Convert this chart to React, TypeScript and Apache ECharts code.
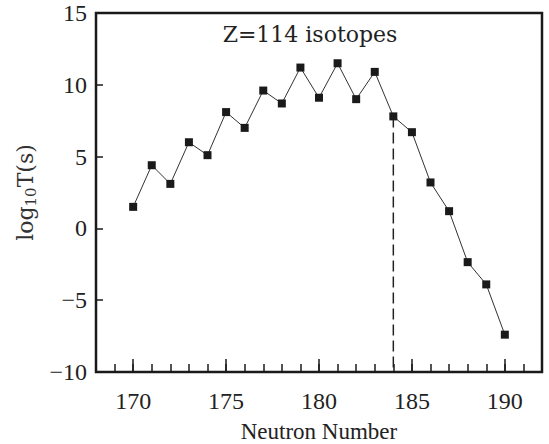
import React, { useEffect, useRef } from "react";
import * as echarts from "echarts";

// Data
const neutronNumbers = [170, 171, 172, 173, 174, 175, 176, 177, 178, 179, 180, 181, 182, 183, 184, 185, 186, 187, 188, 189, 190];
const logHalfLives = [1.5, 4.4, 3.1, 6.0, 5.1, 8.1, 7.0, 9.6, 8.7, 11.2, 9.1, 11.5, 9.0, 10.9, 7.8, 6.7, 3.2, 1.2, -2.35, -3.9, -7.4];
const markerNeutron = 184;
const xRange = [168, 192];
const yRange = [-10, 15];
const yTickStep = 5;
const titleText = "Z=114 isotopes";
const xAxisName = "Neutron Number";

export default function App() {
  const ref = useRef<HTMLDivElement>(null);

  useEffect(() => {
    if (!ref.current) return;
    const chart = echarts.init(ref.current, undefined, { renderer: "svg" });
    const points = neutronNumbers.map((n, i) => [n, logHalfLives[i]]);
    const markY = logHalfLives[neutronNumbers.indexOf(markerNeutron)];
    const dashed = [
      [markerNeutron, markY],
      [markerNeutron, yRange[0]],
    ];
    const ink = "#1a1a1a";
    const tickFont = "Liberation Serif";

    chart.setOption({
      animation: false,
      backgroundColor: "#ffffff",
      grid: {
        left: 96,
        right: 7,
        top: 13,
        bottom: 72,
        show: true,
        borderColor: ink,
        borderWidth: 2.5,
        backgroundColor: "transparent",
        containLabel: false,
        outerBoundsMode: "none",
      },
      graphic: [
        {
          type: "text",
          x: 310,
          y: 23,
          style: {
            text: titleText,
            font: '22px "DejaVu Serif"',
            fill: "#222",
            align: "center",
            verticalAlign: "top",
          },
        },
      ],
      xAxis: [
        {
          type: "value",
          min: xRange[0],
          max: xRange[1],
          interval: 1,
          position: "bottom",
          axisLine: { show: false, onZero: false },
          splitLine: { show: false },
          axisTick: { show: true, inside: true, length: 8, lineStyle: { color: ink, width: 1.5 } },
          axisLabel: {
            margin: 17,
            fontFamily: tickFont,
            fontSize: 24,
            color: "#222",
            formatter: (v: number) => (v % 5 === 0 ? String(v) : ""),
          },
          name: xAxisName,
          nameLocation: "middle",
          nameGap: 48,
          nameTextStyle: { fontFamily: tickFont, fontSize: 23, lineHeight: 23, color: "#222" },
        },
        {
          type: "value",
          min: xRange[0],
          max: xRange[1],
          splitNumber: 5,
          position: "bottom",
          offset: 0,
          axisLine: { show: false, onZero: false },
          splitLine: { show: false },
          axisTick: { show: true, inside: true, length: 13, lineStyle: { color: ink, width: 1.5 } },
          axisLabel: { show: false },
        },
      ],
      yAxis: {
        type: "value",
        min: yRange[0],
        max: yRange[1],
        interval: yTickStep,
        axisLine: { show: false, onZero: false },
        splitLine: { show: false },
        axisTick: { show: true, inside: true, length: 7, lineStyle: { color: ink, width: 1.5 } },
        axisLabel: {
          margin: 9,
          fontFamily: tickFont,
          fontSize: 24,
          color: "#222",
          formatter: (v: number) => String(v).replace("-", "\u2212"),
        },
        name: "{m|log}{s|10}{m|T(s)}",
        nameLocation: "middle",
        nameRotate: 90,
        nameGap: 55,
        nameTextStyle: {
          rich: {
            m: { fontFamily: "DejaVu Serif", fontSize: 22, lineHeight: 22, color: "#333" },
            s: { fontFamily: "DejaVu Serif", fontSize: 15, lineHeight: 15, color: "#333", padding: [12, 0, 0, 0] },
          },
        },
      },
      series: [
        {
          type: "line",
          xAxisIndex: 0,
          data: dashed,
          symbol: "none",
          lineStyle: { color: "#222", width: 1.5, type: [11, 5] },
          silent: true,
          z: 1,
        },
        {
          type: "line",
          xAxisIndex: 0,
          data: points,
          symbol: "rect",
          symbolSize: 8,
          lineStyle: { color: "#333", width: 1 },
          itemStyle: { color: ink },
          z: 2,
        },
      ],
    });
    return () => chart.dispose();
  }, []);

  return (
    <div
      ref={ref}
      style={{ position: "fixed", left: 0, top: 0, width: 549, height: 444, background: "#fff" }}
    />
  );
}
